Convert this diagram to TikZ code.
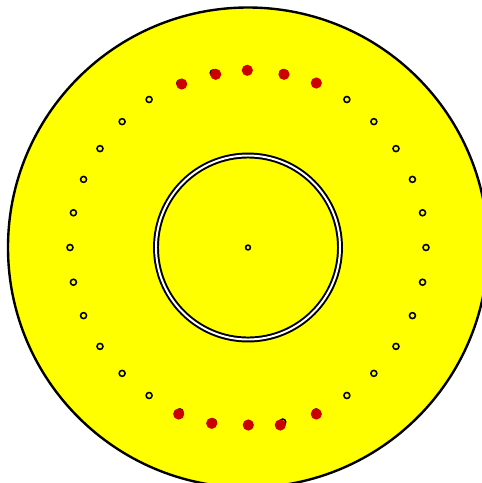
\documentclass[tikz,border=0pt]{standalone}
\usepackage{xcolor}
\usepackage{tikz}
\usetikzlibrary{positioning}

\definecolor{discyellow}{HTML}{FFFF00}
\definecolor{pinred}{HTML}{CC0000}

\begin{document}
\begin{tikzpicture}[
  x=0.25mm, y=-0.25mm,
  disc/.style={draw=black, line width=1.7pt, fill=discyellow},
  bore/.style={draw=black, line width=1.4pt, double=white, double distance=1.4pt},
  hole/.style={circle, draw=black, line width=1.1pt, inner sep=0pt,
               minimum size=1.5mm, fill=discyellow},
  pin/.style={circle, fill=pinred, inner sep=0pt, minimum size=2.8mm}
]
\useasboundingbox (0,0) rectangle (482,483);
\fill[white] (0,0) rectangle (482,483);
\clip (0,0) rectangle (482,483);

\coordinate (c) at (248,247.5);

% disc and centre bore
\draw[disc] (c) circle[radius=240];
\draw[bore] (c) circle[radius=92];
\node[hole, minimum size=1.2mm] (hub) at (c) {};

% ring of 32 holes
\foreach \i in {0,...,31}
  \node[hole] (hole\i) at ([shift={(\i*11.25:178)}]c) {};

% red pins
\foreach \x/\y [count=\k] in {181.7/84, 215.7/74.3, 247.3/70.3, 284/74.3, 316.3/83,
                               178.7/414, 211.7/423.3, 248.3/425, 280.3/425, 316.3/414}
  \node[pin] (pin\k) at (\x,\y) {};

\end{tikzpicture}
\end{document}
